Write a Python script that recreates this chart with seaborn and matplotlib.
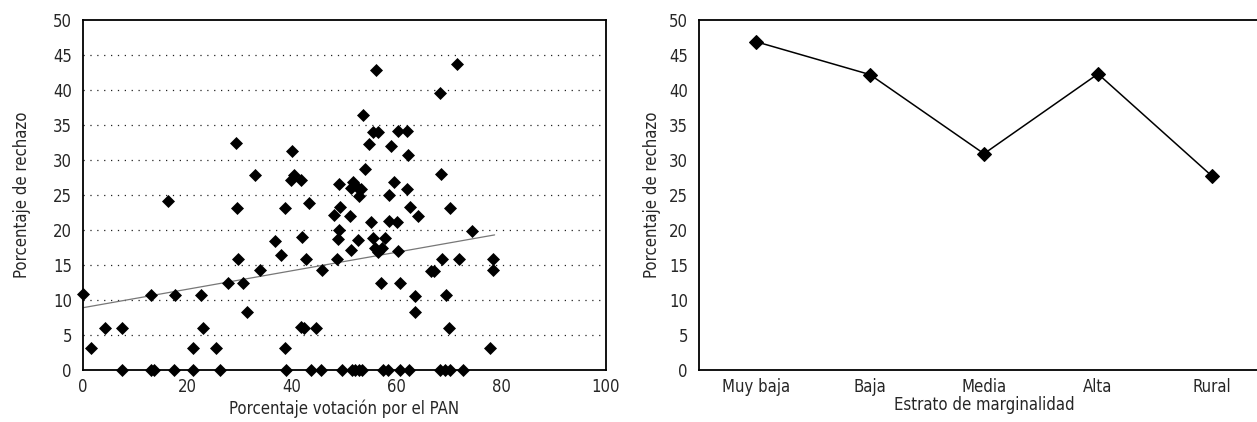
import numpy as np
import pandas as pd
import matplotlib
matplotlib.use("Agg")
import matplotlib.pyplot as plt
import seaborn as sns
from matplotlib.ticker import FixedLocator
from matplotlib import font_manager

# ---------------- data ----------------
pan_vote = [0.0, 1.6, 4.2, 7.5, 13.0, 16.3, 17.5, 21.1, 22.6, 23.0, 25.4, 27.7, 29.2, 29.5,
            29.7, 30.5, 31.4, 32.9, 33.8, 36.7, 37.8, 38.6, 38.7, 39.9, 39.7, 40.3, 41.6, 41.9,
            41.6, 42.2, 42.7, 43.3, 44.6, 45.7,
            47.9, 48.8, 49.0, 48.5, 49.0, 49.2, 51.1, 51.3, 51.6, 51.3, 52.3, 52.6, 53.2, 52.8,
            53.5, 53.9, 54.7, 55.1, 55.4, 55.5, 56.4, 56.1, 55.8, 57.1, 56.4, 57.7, 56.9, 58.5,
            58.8, 58.5, 59.4, 60.2, 60.1, 60.2, 60.6, 62.0, 62.0, 62.1, 62.5, 63.4, 63.5, 64.1,
            66.6, 67.2, 68.5, 68.3, 68.7, 69.5, 70.0, 70.2, 71.5, 71.9, 74.3, 77.9, 78.4, 78.4,
            7.4, 13.0, 13.6, 17.4, 21.0, 26.1, 38.8, 43.6, 45.5, 49.5, 51.4, 52.0, 52.7, 53.4,
            57.4, 58.3, 60.6, 62.4, 68.3, 69.2, 70.2, 72.6]
rechazo = [10.8, 3.1, 6.0, 6.0, 10.7, 24.1, 10.7, 3.1, 10.7, 6.0, 3.1, 12.4, 32.4, 23.1,
           15.8, 12.4, 8.3, 27.9, 14.3, 18.5, 16.4, 23.1, 3.1, 31.3, 27.2, 27.8, 27.2, 19.0,
           6.2, 6.0, 15.8, 23.9, 6.0, 14.3,
           22.2, 18.7, 20.0, 15.8, 26.6, 23.3, 22.0, 17.1, 26.8, 26.0, 26.2, 18.6, 25.8, 24.9,
           36.5, 28.7, 32.3, 21.2, 18.8, 34.0, 34.0, 42.8, 17.5, 17.5, 16.9, 18.8, 12.5, 25.0,
           32.0, 21.3, 26.8, 34.2, 21.2, 17.0, 12.4, 34.2, 25.8, 30.7, 23.3, 10.6, 8.3, 22.0,
           14.2, 14.2, 28.0, 39.6, 15.8, 10.7, 6.0, 23.2, 43.7, 15.8, 19.8, 3.2, 15.8, 14.3,
           0, 0, 0, 0, 0, 0, 0, 0, 0, 0, 0, 0, 0, 0,
           0, 0, 0, 0, 0, 0, 0, 0]

trend_x = [0.0, 78.7]
trend_y = [8.9, 19.3]

estratos = ["Muy baja", "Baja", "Media", "Alta", "Rural"]
rechazo_estrato = [46.9, 42.2, 30.9, 42.3, 27.7]

y_ticks = [0, 5, 10, 15, 20, 25, 30, 35, 40, 45, 50]
x_ticks = [0, 20, 40, 60, 80, 100]

# ---------------- style ----------------
sns.set_theme(style="white")
names = {f.name for f in font_manager.fontManager.ttflist}
if "Liberation Sans Narrow" in names:
    plt.rcParams["font.family"] = ["Liberation Sans Narrow", "DejaVu Sans"]
else:
    plt.rcParams["font.family"] = ["DejaVu Sans"]
    plt.rcParams["font.stretch"] = "condensed"
plt.rcParams["font.size"] = 12

W, H = 1257, 422
fig = plt.figure(figsize=(W / 100, H / 100), dpi=100)

# ---------------- left panel ----------------
ax1 = fig.add_axes([83 / W, (H - 370) / H, (606 - 83) / W, 350 / H])
scatter_df = pd.DataFrame({"pan": pan_vote, "rech": rechazo})
sns.scatterplot(data=scatter_df, x="pan", y="rech", ax=ax1, marker="D", s=44,
                color="black", edgecolor="black", linewidth=0, zorder=3, clip_on=False)
sns.lineplot(x=trend_x, y=trend_y, ax=ax1, color="#777777", lw=0.9, zorder=2)
ax1.set_xlim(0, 100)
ax1.set_ylim(0, 50)
ax1.xaxis.set_major_locator(FixedLocator(x_ticks))
ax1.yaxis.set_major_locator(FixedLocator(y_ticks))
for yv in y_ticks[1:-1]:
    ax1.axhline(yv, color="#222222", lw=0.9, ls=(0, (1, 4.5)), zorder=1)
ax1.set_xlabel("Porcentaje votación por el PAN", fontsize=12, labelpad=2)
ax1.set_ylabel("Porcentaje de rechazo", fontsize=12, labelpad=16)

# ---------------- right panel ----------------
ax2 = fig.add_axes([699 / W, (H - 370) / H, (1269 - 699) / W, 350 / H])
line_df = pd.DataFrame({"estrato": estratos, "rech": rechazo_estrato})
sns.lineplot(data=line_df, x="estrato", y="rech", ax=ax2, color="black", lw=1.1,
             marker="D", markersize=7, markeredgecolor="black", sort=False)
ax2.set_xlim(-0.5, 4.5)
ax2.set_ylim(0, 50)
ax2.yaxis.set_major_locator(FixedLocator(y_ticks))
ax2.set_xticks(range(len(estratos)))
ax2.set_xticklabels(estratos)
ax2.set_xticks([i - 0.5 for i in range(len(estratos) + 1)], minor=True)
ax2.tick_params(axis="x", which="major", length=0, pad=6)
ax2.tick_params(axis="x", which="minor", length=5, width=1.2, color="black", direction="out")
ax2.set_xlabel("Estrato de marginalidad", fontsize=12, labelpad=0)
ax2.set_ylabel("Porcentaje de rechazo", fontsize=12, labelpad=6)

for ax in (ax1, ax2):
    ax.grid(False)
    ax.set_facecolor("white")
    for sp in ax.spines.values():
        sp.set_visible(True)
        sp.set_color("black")
        sp.set_linewidth(1.3)
    ax.tick_params(axis="y", which="major", length=5, width=1.2, color="black",
                   direction="out", labelsize=12, pad=3)
    ax.tick_params(axis="x", labelsize=12)
ax1.tick_params(axis="x", which="major", length=4, width=1.2, color="black",
                direction="out", pad=2)

fig.savefig("out.png", dpi=100, facecolor="white")
